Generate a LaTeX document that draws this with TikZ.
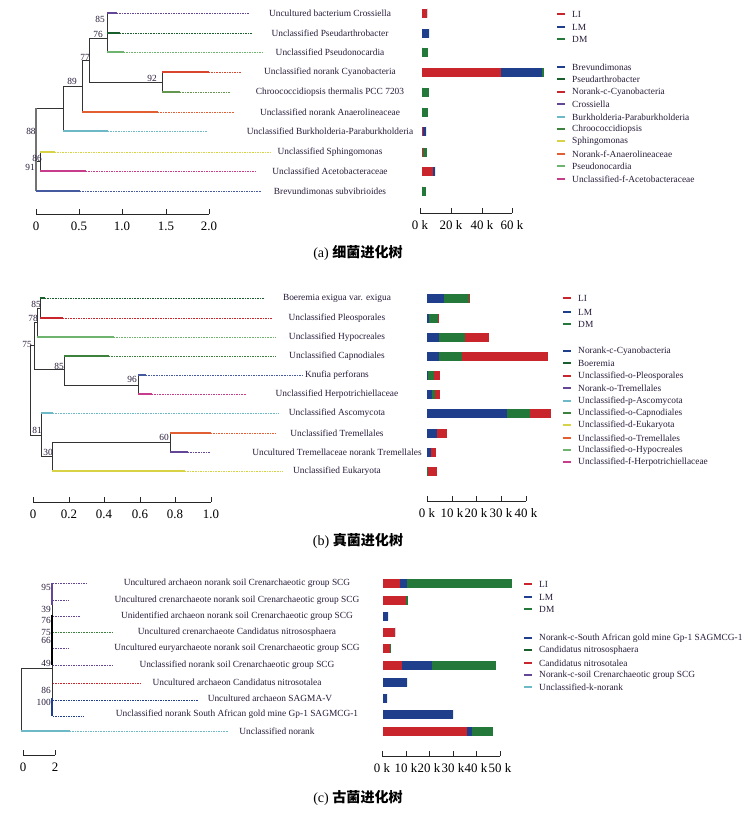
\documentclass[tikz,border=0pt]{standalone}
\usepackage{fontspec}
\setmainfont{Liberation Serif}
\newfontfamily\cjk{Noto Sans CJK SC}
\usetikzlibrary{positioning}
\definecolor{cRed}{RGB}{200,38,44}
\definecolor{cNavy}{RGB}{31,63,140}
\definecolor{cGreen}{RGB}{35,120,58}
\definecolor{cPurple}{RGB}{100,70,150}
\definecolor{cDkGreen}{RGB}{25,95,45}
\definecolor{cLtGreen}{RGB}{110,180,110}
\definecolor{cMidGreen}{RGB}{60,130,60}
\definecolor{cOrange}{RGB}{225,95,50}
\definecolor{cRedOrange}{RGB}{215,70,45}
\definecolor{cCyan}{RGB}{110,185,200}
\definecolor{cYellow}{RGB}{215,210,70}
\definecolor{cMagenta}{RGB}{200,60,140}
\definecolor{cBlue}{RGB}{70,90,160}
\definecolor{cOlive}{RGB}{100,150,80}
\definecolor{txt}{RGB}{40,28,58}
\tikzset{%
  branch/.style     = { draw = #1, line width = 0.9pt },
  trail/.style      = { draw = #1, line width = 0.6pt, dash pattern = on 0.7pt off 0.7pt },
  stem/.style       = { draw = black!80, line width = 0.8pt },
  rootline/.style   = { draw = black!55, line width = 1.6pt },
  barseg/.style     = { fill = #1 },
  swatch/.style     = { draw = #1, line width = 2.2pt },
  axisline/.style   = { draw = black!85, line width = 0.8pt },
  taxon/.style      = { font = \fontsize{8}{9}\selectfont, text = txt, inner sep = 0pt },
  keytext/.style    = { taxon, anchor = west },
  boot/.style       = { font = \fontsize{8}{9}\selectfont, text = txt, inner sep = 0pt },
  scalelabel/.style = { font = \fontsize{11}{12}\selectfont, inner sep = 0pt },
  capt/.style       = { font = \fontsize{12}{14}\selectfont, inner sep = 0pt },
}
% leaf: x start, x solid end, x dotted end, y, colour
\newcommand{\tip}[5]{\draw[branch=#5] (#1,#4) -- (#2,#4); \draw[trail=#5] (#2,#4) -- (#3,#4);}
% clade: x, y top, y bottom, parent x, y of attachment
\newcommand{\clade}[5]{\draw[stem] (#1,#2) -- (#1,#3) (#4,#5) -- (#1,#5);}
% stacked bar: y, four breaks, three colours
\newcommand{\stackbar}[8]{%
  \fill[barseg=#6] (#2,{#1-4.5}) rectangle (#3,{#1+4.5});
  \fill[barseg=#7] (#3,{#1-4.5}) rectangle (#4,{#1+4.5});
  \fill[barseg=#8] (#4,{#1-4.5}) rectangle (#5,{#1+4.5});}
% legend entry: name, x, y, colour, text
\newcommand{\keyentry}[5]{\draw[swatch=#4] (#2,#3) -- ({#2+8},#3); \node (#1) [keytext] at ({#2+15},#3) {#5};}
% scale tick: name, x, y, label
\newcommand{\scaletick}[4]{\draw[axisline] (#2,#3) -- (#2,{#3-5}); \node (#1) [scalelabel] at (#2,{#3+12}) {#4};}

\begin{document}
\begin{tikzpicture}[x=0.03cm, y=-0.03cm]
    \useasboundingbox (0,0) rectangle (749,813);
    % (a) bacteria ---------------------------------------------------------------------------------
    % tree
    \clade{107}{13}{52}{89}{38}
    \clade{162}{72}{92}{89}{82}
    \clade{89}{38}{82}{82}{60}
    \clade{82}{60}{112}{63}{86}
    \clade{63}{86}{131}{36}{108}
    \clade{40}{152}{171}{36}{161}
    \draw[rootline] (36,108) -- (36,191);
    \tip{107}{117}{249}{13}{cPurple}
    \tip{107}{120}{252}{33}{cDkGreen}
    \tip{107}{124}{262}{52}{cLtGreen}
    \tip{162}{209}{241}{72}{cRedOrange}
    \tip{162}{180}{230}{92}{cOlive}
    \tip{82}{158}{235}{112}{cOrange}
    \tip{63}{108}{207}{131}{cCyan}
    \tip{40}{55}{271}{152}{cYellow}
    \tip{40}{86}{255}{171}{cMagenta}
    \tip{36}{80}{262}{191}{cBlue}
    % support values
    \node(ba1) [boot] at (100,19)  {85};
    \node(ba2) [boot] at (98,34)   {76};
    \node(ba3) [boot] at (85,57)   {77};
    \node(ba4) [boot] at (72,81)   {89};
    \node(ba5) [boot] at (152,78)  {92};
    \node(ba6) [boot] at (31,131)  {88};
    \node(ba7) [boot] at (37,158)  {86};
    \node(ba8) [boot] at (30,167)  {91};
    % taxa
    \node(a1)  [taxon] at (330,13)  {Uncultured bacterium Crossiella};
    \node(a2)  [taxon] at (330,33)  {Unclassified Pseudarthrobacter};
    \node(a3)  [taxon] at (330,52)  {Unclassified Pseudonocardia};
    \node(a4)  [taxon] at (330,72)  {Unclassified norank Cyanobacteria};
    \node(a5)  [taxon] at (330,92)  {Chroococcidiopsis thermalis PCC 7203};
    \node(a6)  [taxon] at (330,112) {Unclassified norank Anaerolineaceae};
    \node(a7)  [taxon] at (330,131) {Unclassified Burkholderia-Paraburkholderia};
    \node(a8)  [taxon] at (330,152) {Unclassified Sphingomonas};
    \node(a9)  [taxon] at (330,171) {Unclassified Acetobacteraceae};
    \node(a10) [taxon] at (330,191) {Brevundimonas subvibrioides};
    % bars
    \stackbar{13}{422}{427}{427}{427}{cRed}{cNavy}{cGreen}
    \stackbar{33}{422}{422}{429}{429}{cRed}{cNavy}{cGreen}
    \stackbar{52}{422}{422}{422}{428}{cRed}{cNavy}{cGreen}
    \stackbar{72}{422}{501}{542}{544}{cRed}{cNavy}{cGreen}
    \stackbar{92}{422}{422}{422}{429}{cRed}{cNavy}{cGreen}
    \stackbar{112}{422}{422}{422}{428}{cRed}{cNavy}{cGreen}
    \stackbar{131}{422}{423}{426}{426}{cRed}{cNavy}{cGreen}
    \stackbar{152}{422}{423}{423}{427}{cRed}{cNavy}{cGreen}
    \stackbar{171}{422}{433}{435}{435}{cRed}{cNavy}{cGreen}
    \stackbar{191}{422}{422}{422}{426}{cRed}{cNavy}{cGreen}
    % scales
    \draw[axisline] (36,214) -- (209,214);
    \scaletick{sa1}{36}{214}{0}
    \scaletick{sa2}{79}{214}{0.5}
    \scaletick{sa3}{122}{214}{1.0}
    \scaletick{sa4}{166}{214}{1.5}
    \scaletick{sa5}{209}{214}{2.0}
    \draw[axisline] (420,213) -- (512,213);
    \scaletick{ka1}{420}{213}{0 k}
    \scaletick{ka2}{451}{213}{20 k}
    \scaletick{ka3}{482}{213}{40 k}
    \scaletick{ka4}{512}{213}{60 k}
    % legend
    \keyentry{la1}{557}{14}{cRed}{LI}
    \keyentry{la2}{557}{27}{cNavy}{LM}
    \keyentry{la3}{557}{39}{cGreen}{DM}
    \keyentry{la4}{557}{67}{cNavy}{Brevundimonas}
    \keyentry{la5}{557}{79}{cDkGreen}{Pseudarthrobacter}
    \keyentry{la6}{557}{92}{cRed}{Norank-c-Cyanobacteria}
    \keyentry{la7}{557}{104}{cPurple}{Crossiella}
    \keyentry{la8}{557}{117}{cCyan}{Burkholderia-Paraburkholderia}
    \keyentry{la9}{557}{129}{cMidGreen}{Chroococcidiopsis}
    \keyentry{la10}{557}{141}{cYellow}{Sphingomonas}
    \keyentry{la11}{557}{154}{cOrange}{Norank-f-Anaerolineaceae}
    \keyentry{la12}{557}{166}{cLtGreen}{Pseudonocardia}
    \keyentry{la13}{557}{179}{cMagenta}{Unclassified-f-Acetobacteraceae}
    \node(capa) [capt] at (358,253) {(a) {\cjk\bfseries 细菌进化树}};
    % (b) fungi ------------------------------------------------------------------------------------
    % tree
    \clade{40}{298}{318}{37}{308}
    \clade{37}{308}{337}{34}{322}
    \clade{34}{322}{369}{30}{345}
    \clade{64}{356}{385}{34}{369}
    \clade{138}{375}{394}{64}{385}
    \clade{30}{345}{435}{30}{345}
    \clade{41}{413}{456}{30}{435}
    \clade{52}{442}{471}{41}{456}
    \clade{170}{433}{452}{52}{442}
    \tip{40}{45}{264}{298}{cDkGreen}
    \tip{40}{63}{272}{318}{cRed}
    \tip{37}{114}{275}{337}{cLtGreen}
    \tip{64}{109}{276}{356}{cMidGreen}
    \tip{138}{146}{303}{375}{cBlue}
    \tip{138}{152}{246}{394}{cMagenta}
    \tip{41}{53}{278}{413}{cCyan}
    \tip{170}{211}{275}{433}{cOrange}
    \tip{170}{188}{210}{452}{cPurple}
    \tip{52}{185}{283}{471}{cYellow}
    % support values
    \node(bb1) [boot] at (36,304)  {85};
    \node(bb2) [boot] at (33,318)  {78};
    \node(bb3) [boot] at (27,344)  {75};
    \node(bb4) [boot] at (59,366)  {85};
    \node(bb5) [boot] at (132,379) {96};
    \node(bb6) [boot] at (37,430)  {81};
    \node(bb7) [boot] at (48,452)  {30};
    \node(bb8) [boot] at (164,437) {60};
    % taxa
    \node(b1)  [taxon] at (337,298) {Boeremia exigua var. exigua};
    \node(b2)  [taxon] at (337,318) {Unclassified Pleosporales};
    \node(b3)  [taxon] at (337,337) {Unclassified Hypocreales};
    \node(b4)  [taxon] at (337,356) {Unclassified Capnodiales};
    \node(b5)  [taxon] at (337,375) {Knufia perforans};
    \node(b6)  [taxon] at (337,394) {Unclassified Herpotrichiellaceae};
    \node(b7)  [taxon] at (337,413) {Unclassified Ascomycota};
    \node(b8)  [taxon] at (337,433) {Unclassified Tremellales};
    \node(b9)  [taxon] at (337,452) {Uncultured Tremellaceae norank Tremellales};
    \node(b10) [taxon] at (337,471) {Unclassified Eukaryota};
    % bars
    \stackbar{298}{427}{444}{469}{470}{cNavy}{cGreen}{cRed}
    \stackbar{318}{427}{429}{438}{439}{cNavy}{cGreen}{cRed}
    \stackbar{337}{427}{439}{465}{489}{cNavy}{cGreen}{cRed}
    \stackbar{356}{427}{439}{462}{548}{cNavy}{cGreen}{cRed}
    \stackbar{375}{427}{428}{434}{440}{cNavy}{cGreen}{cRed}
    \stackbar{394}{427}{432}{435}{440}{cNavy}{cGreen}{cRed}
    \stackbar{413}{427}{507}{530}{551}{cNavy}{cGreen}{cRed}
    \stackbar{433}{427}{437}{437}{447}{cNavy}{cGreen}{cRed}
    \stackbar{452}{427}{431}{431}{436}{cNavy}{cGreen}{cRed}
    \stackbar{471}{427}{427}{428}{437}{cNavy}{cGreen}{cRed}
    % scales
    \draw[axisline] (33,502) -- (211,502);
    \scaletick{sb1}{33}{502}{0}
    \scaletick{sb2}{69}{502}{0.2}
    \scaletick{sb3}{104}{502}{0.4}
    \scaletick{sb4}{140}{502}{0.6}
    \scaletick{sb5}{175}{502}{0.8}
    \scaletick{sb6}{211}{502}{1.0}
    \draw[axisline] (427,501) -- (526,501);
    \scaletick{kb1}{427}{501}{0 k}
    \scaletick{kb2}{452}{501}{10 k}
    \scaletick{kb3}{476}{501}{20 k}
    \scaletick{kb4}{501}{501}{30 k}
    \scaletick{kb5}{526}{501}{40 k}
    % legend
    \keyentry{lb1}{563}{298}{cRed}{LI}
    \keyentry{lb2}{563}{312}{cNavy}{LM}
    \keyentry{lb3}{563}{324}{cGreen}{DM}
    \keyentry{lb4}{563}{351}{cNavy}{Norank-c-Cyanobacteria}
    \keyentry{lb5}{563}{363}{cDkGreen}{Boeremia}
    \keyentry{lb6}{563}{376}{cRed}{Unclassified-o-Pleosporales}
    \keyentry{lb7}{563}{388}{cPurple}{Norank-o-Tremellales}
    \keyentry{lb8}{563}{401}{cCyan}{Unclassified-p-Ascomycota}
    \keyentry{lb9}{563}{413}{cMidGreen}{Unclassified-o-Capnodiales}
    \keyentry{lb10}{563}{425}{cYellow}{Unclassified-d-Eukaryota}
    \keyentry{lb11}{563}{438}{cOrange}{Unclassified-o-Tremellales}
    \keyentry{lb12}{563}{450}{cLtGreen}{Unclassified-o-Hypocreales}
    \keyentry{lb13}{563}{462}{cMagenta}{Unclassified-f-Herpotrichiellaceae}
    \node(capb) [capt] at (358,541) {(b) {\cjk\bfseries 真菌进化树}};
    % (c) archaea ----------------------------------------------------------------------------------
    % tree
    \draw[stem] (52,583) -- (52,716) (21,668) -- (52,668);
    \draw[stem] (21,668) -- (21,731);
    \draw[branch=cPurple] (52,583) -- (52,605);
    \draw[stem, line width = 1.6pt, draw = black] (52,615) -- (52,665);
    \draw[branch=cNavy] (52,698) -- (52,716);
    \draw[trail=cPurple]  (53,583) -- (87,583);
    \draw[trail=cPurple]  (53,600) -- (69,600);
    \draw[trail=cPurple]  (53,616) -- (80,616);
    \draw[trail=cMidGreen] (53,632) -- (113,632);
    \draw[trail=cPurple]  (53,648) -- (69,648);
    \draw[trail=cPurple]  (53,665) -- (113,665);
    \draw[trail=cRed]     (53,683) -- (140,683);
    \draw[trail=cNavy]    (53,700) -- (198,700);
    \draw[trail=cNavy]    (53,716) -- (83,716);
    \tip{21}{70}{228}{731}{cCyan}
    % support values
    \node(bc1) [boot, anchor = east] at (51,587) {95};
    \node(bc2) [boot, anchor = east] at (51,609) {39};
    \node(bc3) [boot, anchor = east] at (51,620) {76};
    \node(bc4) [boot, anchor = east] at (51,632) {75};
    \node(bc5) [boot, anchor = east] at (51,640) {66};
    \node(bc6) [boot, anchor = east] at (51,663) {49};
    \node(bc7) [boot, anchor = east] at (51,690) {86};
    \node(bc8) [boot, anchor = east] at (51,702) {100};
    % taxa
    \node(c1)  [taxon] at (237,583) {Uncultured archaeon norank soil Crenarchaeotic group SCG};
    \node(c2)  [taxon] at (237,600) {Uncultured crenarchaeote norank soil Crenarchaeotic group SCG};
    \node(c3)  [taxon] at (237,616) {Unidentified archaeon norank soil Crenarchaeotic group SCG};
    \node(c4)  [taxon] at (237,632) {Uncultured crenarchaeote Candidatus nitrososphaera};
    \node(c5)  [taxon] at (237,648) {Uncultured euryarchaeote norank soil Crenarchaeotic group SCG};
    \node(c6)  [taxon] at (237,665) {Unclassified norank soil Crenarchaeotic group SCG};
    \node(c7)  [taxon] at (237,682) {Uncultured archaeon Candidatus nitrosotalea};
    \node(c8)  [taxon] at (270,698) {Uncultured archaeon SAGMA-V};
    \node(c9)  [taxon] at (237,714) {Unclassified norank South African gold mine Gp-1 SAGMCG-1};
    \node(c10) [taxon] at (277,731) {Unclassified norank};
    % bars
    \stackbar{583}{383}{400}{407}{512}{cRed}{cNavy}{cGreen}
    \stackbar{600}{383}{406}{406}{408}{cRed}{cNavy}{cGreen}
    \stackbar{616}{383}{383}{388}{388}{cRed}{cNavy}{cGreen}
    \stackbar{632}{383}{395}{395}{395}{cRed}{cNavy}{cGreen}
    \stackbar{648}{383}{390}{390}{391}{cRed}{cNavy}{cGreen}
    \stackbar{665}{383}{402}{432}{496}{cRed}{cNavy}{cGreen}
    \stackbar{682}{383}{383}{407}{407}{cRed}{cNavy}{cGreen}
    \stackbar{698}{383}{383}{387}{387}{cRed}{cNavy}{cGreen}
    \stackbar{714}{383}{383}{453}{453}{cRed}{cNavy}{cGreen}
    \stackbar{731}{383}{467}{472}{493}{cRed}{cNavy}{cGreen}
    % scales
    \draw[axisline] (23,755) -- (55,755);
    \scaletick{sc1}{23}{755}{0}
    \scaletick{sc2}{55}{755}{2}
    \draw[axisline] (382,756) -- (500,756);
    \scaletick{kc1}{382}{756}{0 k}
    \scaletick{kc2}{406}{756}{10 k}
    \scaletick{kc3}{429}{756}{20 k}
    \scaletick{kc4}{453}{756}{30 k}
    \scaletick{kc5}{476}{756}{40 k}
    \scaletick{kc6}{500}{756}{50 k}
    % legend
    \keyentry{lc1}{524}{584}{cRed}{LI}
    \keyentry{lc2}{524}{597}{cNavy}{LM}
    \keyentry{lc3}{524}{609}{cGreen}{DM}
    \keyentry{lc4}{524}{638}{cNavy}{Norank-c-South African gold mine Gp-1 SAGMCG-1}
    \keyentry{lc5}{524}{650}{cDkGreen}{Candidatus nitrososphaera}
    \keyentry{lc6}{524}{663}{cRed}{Candidatus nitrosotalea}
    \keyentry{lc7}{524}{675}{cPurple}{Norank-c-soil Crenarchaeotic group SCG}
    \keyentry{lc8}{524}{687}{cCyan}{Unclassified-k-norank}
    \node(capc) [capt] at (358,798) {(c) {\cjk\bfseries 古菌进化树}};
\end{tikzpicture}
\end{document}
